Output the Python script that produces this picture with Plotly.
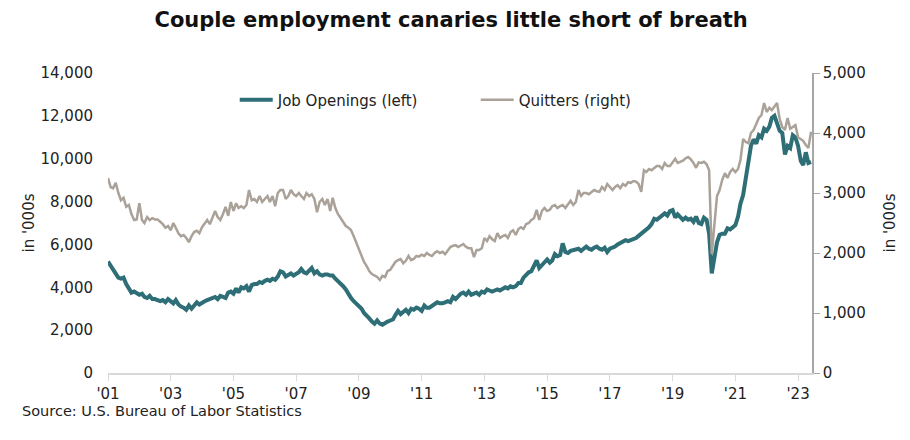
import pandas as pd
import plotly.graph_objects as go

# monthly, Jan 2001 - Jun 2023, thousands
months = pd.date_range("2001-01-01", "2023-06-01", freq="MS")

job_openings = [
    5200, 5000, 4800, 4600, 4450, 4400, 4450, 4150, 3900, 3750, 3800, 3700,  # 2001
    3650, 3700, 3550, 3500, 3600, 3450, 3450, 3400, 3350, 3400, 3300, 3450,  # 2002
    3350, 3250, 3400, 3200, 3100, 3050, 2950, 3150, 3000, 3150, 3300, 3200,  # 2003
    3300, 3350, 3400, 3450, 3500, 3550, 3450, 3600, 3550, 3500, 3750, 3800,  # 2004
    3700, 3950, 3750, 4000, 3950, 4050, 3800, 4100, 4150, 4150, 4250, 4200,  # 2005
    4300, 4350, 4300, 4400, 4350, 4500, 4750, 4700, 4500, 4600, 4650, 4550,  # 2006
    4600, 4700, 4850, 4700, 4650, 4800, 4900, 4650, 4750, 4600, 4550, 4600,  # 2007
    4600, 4550, 4550, 4400, 4300, 4150, 4050, 3900, 3650, 3500, 3350, 3250,  # 2008
    3150, 3000, 2800, 2700, 2550, 2400, 2300, 2450, 2300, 2250, 2350, 2400,  # 2009
    2450, 2500, 2700, 2900, 2750, 2850, 2950, 2800, 3000, 2950, 3050, 3000,  # 2010
    2900, 3150, 3050, 3050, 3150, 3200, 3300, 3250, 3250, 3300, 3350, 3300,  # 2011
    3550, 3450, 3600, 3700, 3750, 3650, 3800, 3650, 3700, 3750, 3650, 3800,  # 2012
    3750, 3900, 3850, 3800, 3850, 3900, 3850, 3950, 4000, 3950, 4050, 4000,  # 2013
    4050, 4200, 4200, 4450, 4600, 4700, 4750, 5000, 5250, 4900, 5050, 5150,  # 2014
    5300, 5150, 5250, 5550, 5450, 5500, 6050, 5650, 5600, 5700, 5750, 5750,  # 2015
    5800, 5700, 5800, 5900, 5800, 5750, 5850, 5900, 5800, 5750, 5850, 5650,  # 2016
    5800, 5850, 5900, 6000, 6050, 6150, 6200, 6150, 6200, 6250, 6300, 6400,  # 2017
    6500, 6650, 6700, 6800, 6950, 7200, 7150, 7250, 7300, 7450, 7350, 7550,  # 2018
    7600, 7250, 7400, 7300, 7150, 7250, 7150, 7200, 7050, 7300, 7000, 6950,  # 2019
    7250, 7150, 6500, 4650, 5500, 6100, 6450, 6500, 6500, 6750, 6700, 6800,  # 2020
    6900, 7300, 7900, 8300, 9100, 10000, 10600, 10900, 10700, 11100, 11000, 11400,  # 2021
    11300, 11500, 11900, 12000, 11700, 11300, 11200, 10200, 10600, 10500, 11100, 11000,  # 2022
    10600, 9900, 9700, 10300, 9800, 9850,  # 2023
]

quitters = [
    3250, 3100, 3080, 3170, 3000, 2880, 2920, 2770, 2800, 2650, 2550, 2560,  # 2001
    2830, 2550, 2500, 2600, 2550, 2580, 2560, 2560, 2520, 2480, 2420, 2450,  # 2002
    2380, 2500, 2420, 2330, 2280, 2300, 2250, 2180, 2280, 2350, 2370, 2330,  # 2003
    2430, 2500, 2550, 2480, 2600, 2700, 2600, 2550, 2650, 2770, 2620, 2850,  # 2004
    2700, 2830, 2750, 2780, 2750, 2800, 3050, 2880, 2900, 2850, 2950, 2850,  # 2005
    2900, 2950, 2850, 2950, 2780, 3000, 3050, 3050, 2900, 2950, 3050, 2980,  # 2006
    2950, 3000, 2950, 2900, 3000, 2950, 2980, 2900, 2680, 2850, 2900, 2800,  # 2007
    2900, 2700, 2920, 2750, 2650, 2580, 2520, 2450, 2420, 2380, 2280, 2180,  # 2008
    2050, 1950, 1850, 1780, 1700, 1650, 1620, 1600, 1550, 1620, 1600, 1700,  # 2009
    1720, 1800, 1850, 1880, 1900, 1830, 1870, 1950, 1880, 1900, 1950, 1940,  # 2010
    1970, 1950, 2000, 1970, 1950, 2000, 2030, 2000, 2020, 1980, 2050, 2100,  # 2011
    2120, 2130, 2100, 2120, 2150, 2100, 2080, 2080, 1930, 2050, 2050, 2080,  # 2012
    2250, 2200, 2280, 2230, 2200, 2330, 2250, 2280, 2300, 2250, 2350, 2380,  # 2013
    2300, 2400, 2430, 2400, 2480, 2500, 2550, 2580, 2720, 2550, 2700, 2750,  # 2014
    2700, 2720, 2780, 2800, 2750, 2780, 2800, 2750, 2820, 2870, 2800, 2850,  # 2015
    3050, 2950, 3000, 3000, 2980, 3020, 3050, 3030, 3020, 3100, 3050, 3150,  # 2016
    3100, 3050, 3100, 3130, 3080, 3150, 3120, 3180, 3170, 3200, 3190, 3150,  # 2017
    3020, 3380, 3350, 3400, 3380, 3420, 3450, 3450, 3400, 3500, 3450, 3450,  # 2018
    3520, 3570, 3500, 3520, 3540, 3580, 3600, 3560, 3500, 3420, 3510, 3500,  # 2019
    3520, 3480, 3380, 1980, 2500, 2950, 3050, 3220, 3330, 3250, 3350, 3400,  # 2020
    3350, 3400, 3550, 3900, 3850, 3830, 4000, 4050, 4150, 4250, 4300, 4500,  # 2021
    4350, 4420, 4380, 4450, 4500, 4230, 4100, 4050, 4250, 4070, 4100, 4130,  # 2022
    3930, 3900, 3870, 3800, 3750, 4020,  # 2023
]

x_tick_years = list(range(2001, 2024, 2))
x_tick_labels = ["'01", "'03", "'05", "'07", "'09", "'11", "'13", "'15", "'17", "'19", "'21", "'23"]

FONT = "DejaVu Sans"
TEXT = "#222222"

fig = go.Figure()
fig.add_trace(go.Scatter(x=months, y=job_openings, name="Job Openings (left)", mode="lines",
                         line=dict(color="#2E6E77", width=4)))
fig.add_trace(go.Scatter(x=months, y=quitters, name="Quitters (right)", mode="lines", yaxis="y2",
                         line=dict(color="#AAA199", width=2.5)))

fig.update_layout(
    width=910, height=440,
    margin=dict(l=100, r=106, t=65, b=75),
    paper_bgcolor="white", plot_bgcolor="white",
    font=dict(family=FONT, size=15, color=TEXT),
    title=dict(text="<b>Couple employment canaries little short of breath</b>",
               x=0.487, xanchor="center", y=0.973, yanchor="middle",
               font=dict(family=FONT, size=21, color="#111111")),
    showlegend=True,
    legend=dict(orientation="h", x=0.18, xanchor="left", y=0.91, yanchor="middle",
                font=dict(size=15, color=TEXT), bgcolor="rgba(0,0,0,0)",
                itemwidth=33, entrywidthmode="pixels", entrywidth=193),
    xaxis=dict(
        range=["2001-01-01", "2023-06-12"],
        tickvals=[pd.Timestamp(f"{y}-01-01") for y in x_tick_years],
        ticktext=x_tick_labels,
        showgrid=False, zeroline=False,
        showline=True, linecolor="#D9D9D9", linewidth=1.5,
        ticks="outside", ticklen=6, tickcolor="#D9D9D9",
        tickfont=dict(size=15, color=TEXT),
        automargin=False,
    ),
    yaxis=dict(
        range=[0, 14000], tickvals=list(range(0, 14001, 2000)), tickformat=",",
        showgrid=False, zeroline=False, showline=False,
        ticklabelstandoff=14,
        title=dict(text="in '000s", font=dict(size=15, color=TEXT), standoff=2),
        tickfont=dict(size=15, color=TEXT),
        automargin=False,
    ),
    yaxis2=dict(
        range=[0, 5000], tickvals=list(range(0, 5001, 1000)), tickformat=",",
        overlaying="y", side="right",
        showgrid=False, zeroline=False,
        showline=True, linecolor="#A6A6A6", linewidth=1.5,
        ticks="outside", ticklen=6, tickcolor="#A6A6A6",
        title=dict(text="in '000s", font=dict(size=15, color=TEXT), standoff=20),
        tickfont=dict(size=15, color=TEXT),
        automargin=False,
    ),
)

fig.add_annotation(text="Source: U.S. Bureau of Labor Statistics", xref="paper", yref="paper",
                   x=-0.125, y=-0.127, xanchor="left", yanchor="middle", showarrow=False,
                   font=dict(size=14.5, color=TEXT))

fig.write_html("out.html")
